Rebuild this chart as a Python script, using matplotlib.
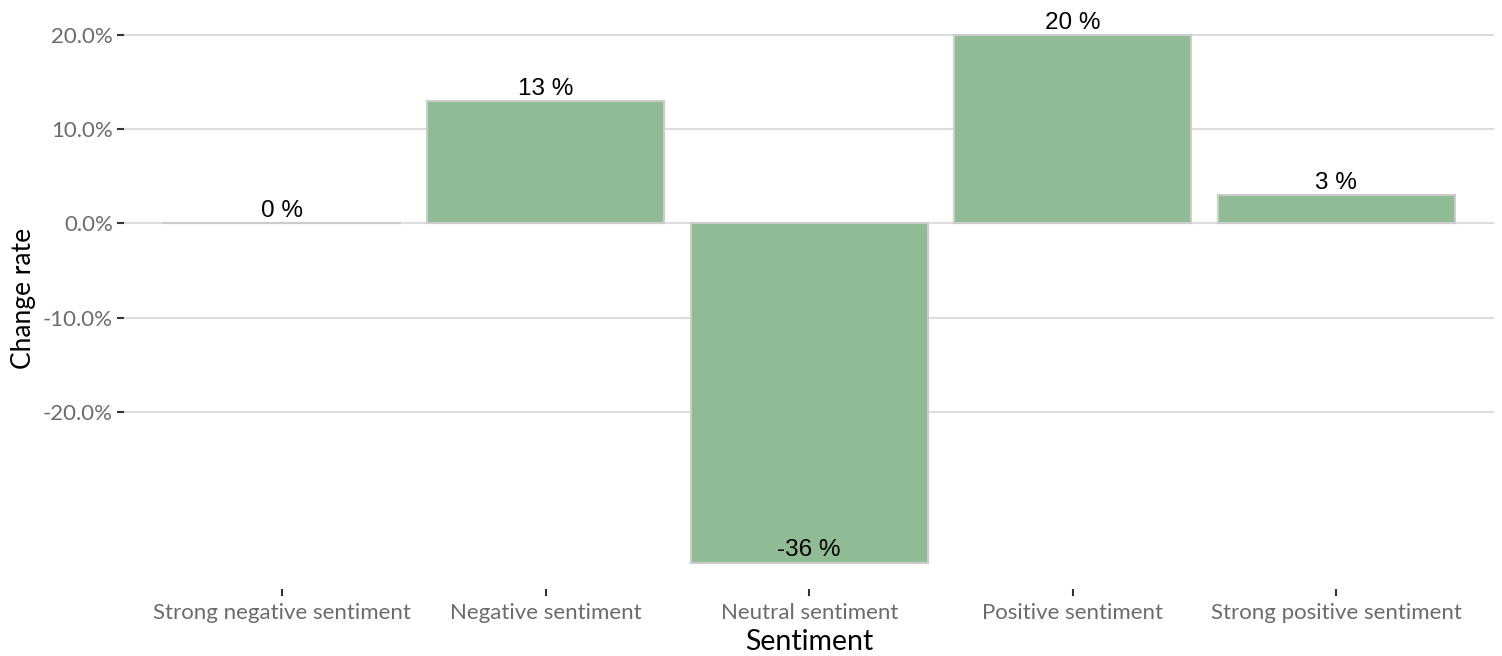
import numpy as np
import matplotlib
matplotlib.use("Agg")
import matplotlib.pyplot as plt

# change rate per sentiment class (%)
categories = ["Strong negative sentiment", "Negative sentiment", "Neutral sentiment",
              "Positive sentiment", "Strong positive sentiment"]
change_rate = [0, 13, -36, 20, 3]
ytick_values = [-20, -10, 0, 10, 20]

plt.rcParams['font.family'] = ['Lato', 'DejaVu Sans']

fig = plt.figure(figsize=(15.02, 6.56), dpi=100)
ax = fig.add_axes([0.0825, 0.102, 0.9125, 0.885])

x = np.arange(len(categories))
ax.bar(x, change_rate, width=0.9, color='#8FBC94', edgecolor='#CCCCCC', linewidth=1.5, zorder=3)

for xi, v in zip(x, change_rate):
    ax.annotate(f"{v} %", (xi, v), xytext=(0, 1), textcoords='offset points',
                ha='center', va='bottom', fontsize=17.5, color='black',
                family=['Liberation Sans', 'DejaVu Sans'], zorder=4)

lo, hi = min(change_rate), max(change_rate)
pad = 0.05 * (hi - lo)
ax.set_ylim(lo - pad, hi + pad)
ax.set_xlim(-0.6, len(categories) - 0.4)

ax.set_yticks(ytick_values)
ax.set_yticklabels([f"{v:.1f}%" for v in ytick_values])
ax.set_xticks(x)
ax.set_xticklabels(categories)

ax.grid(axis='y', color='#DDDDDD', linewidth=1.5, zorder=0)
ax.grid(axis='x', visible=False)
for s in ax.spines.values():
    s.set_visible(False)

ax.tick_params(axis='both', colors='#333333', labelcolor='#6b6b6b', labelsize=16,
               length=5, width=1.5)
ax.tick_params(axis='y', pad=3)
ax.tick_params(axis='x', pad=5)

ax.set_xlabel("Sentiment", fontsize=20.5, color='black', labelpad=4)
ax.set_ylabel("Change rate", fontsize=19, color='black', labelpad=5)

fig.savefig("out.png", dpi=100)
